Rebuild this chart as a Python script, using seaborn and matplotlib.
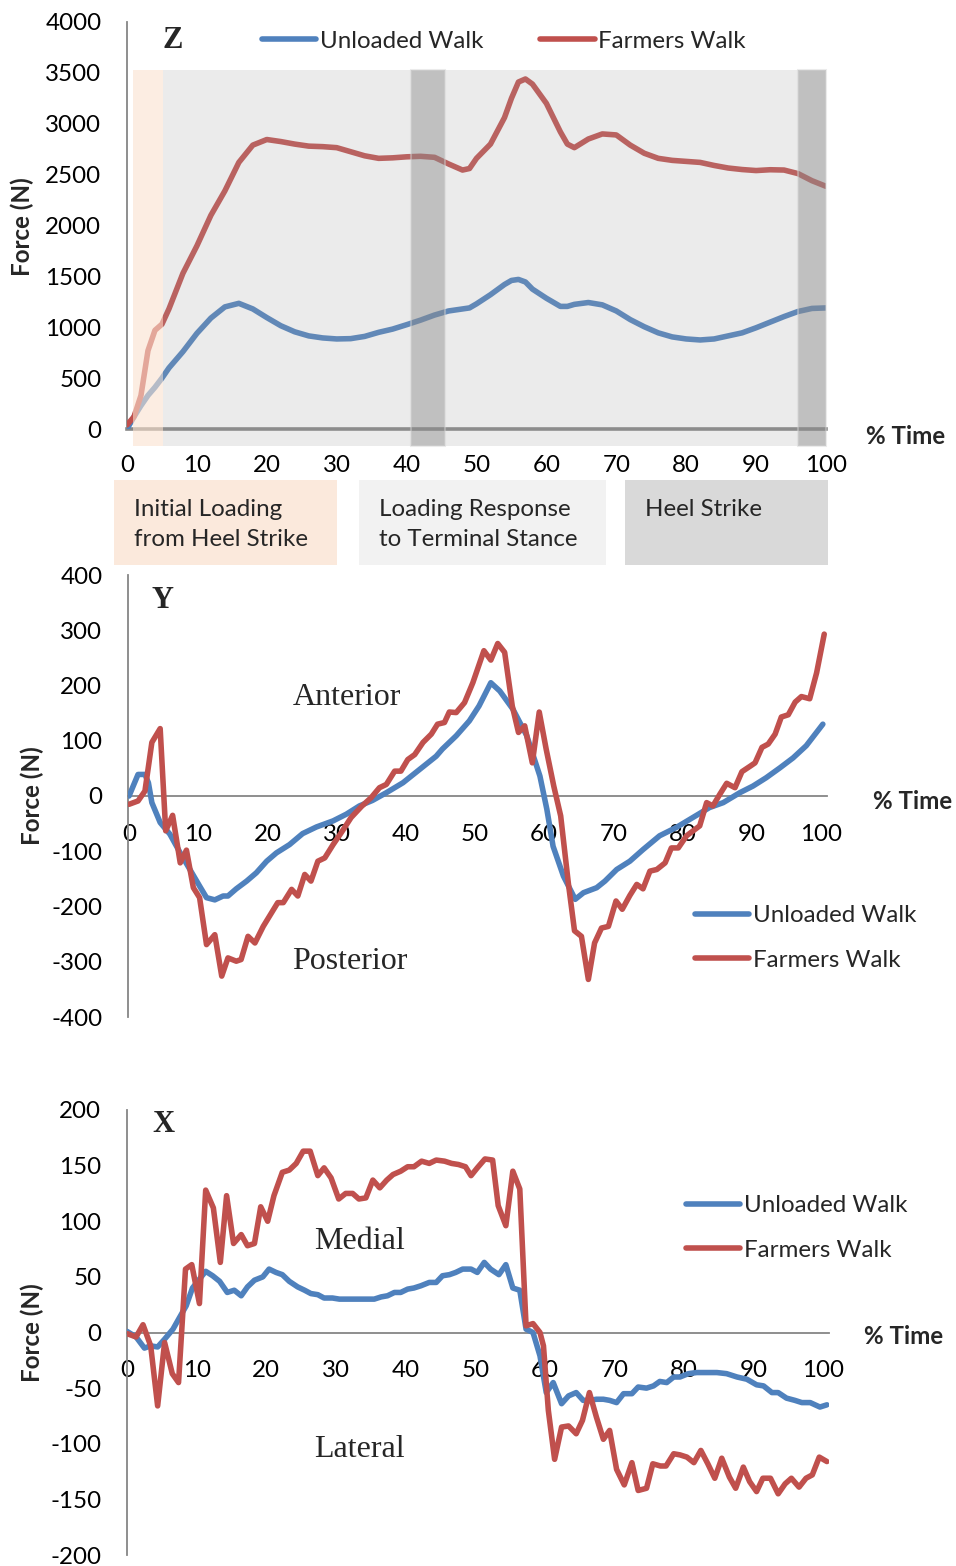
import matplotlib
matplotlib.use("Agg")
import matplotlib.pyplot as plt
from matplotlib.patches import Rectangle
import seaborn as sns

# ---- Z (vertical) force, N ----
z_time = [0, 1, 2, 3, 4, 5, 6, 8, 10, 12, 14, 16, 18, 20, 22, 24, 26, 28, 30, 32,
          34, 36, 38, 40, 42, 44, 46, 48, 49, 50, 52, 54, 55, 56, 57, 58, 60, 62, 63, 64,
          66, 68, 70, 72, 74, 76, 78, 80, 82, 84, 86, 88, 90, 92, 94, 96, 98, 100]
z_unloaded = [0, 120, 230, 330, 410, 500, 600, 760, 940, 1090, 1200, 1235, 1180, 1095, 1015, 955, 915, 895, 885, 888,
              910, 950, 982, 1025, 1070, 1120, 1160, 1180, 1190, 1230, 1320, 1420, 1460, 1470, 1445, 1375, 1285, 1205, 1205, 1225,
              1243, 1220, 1160, 1075, 1005, 945, 905, 885, 875, 885, 915, 945, 995, 1050, 1105, 1155, 1185, 1190]
z_farmers = [40, 120, 330, 770, 970, 1030, 1180, 1530, 1800, 2100, 2340, 2620, 2790, 2845, 2825, 2800, 2780, 2775, 2765, 2725,
             2685, 2660, 2665, 2675, 2680, 2670, 2605, 2545, 2560, 2660, 2800, 3060, 3250, 3410, 3440, 3390, 3200, 2920, 2800, 2765,
             2850, 2900, 2890, 2790, 2710, 2660, 2640, 2630, 2620, 2590, 2565, 2550, 2540, 2548, 2545, 2510, 2440, 2385]

# ---- Y (anterior / posterior) force, N ----
y_time_unloaded = [0, 1.3, 2.3, 2.8, 3.3, 4.5, 5.9, 7.4, 8.8, 10.2, 11.2, 12.4, 13.6, 14.3, 15.5, 17, 18.4, 19.9, 21.3, 23.2,
                   25.1, 27.1, 29.5, 31.4, 33.3, 35.2, 37.2, 39.6, 42, 44.4, 45.3, 47.3, 49.2, 50.6, 52.3, 53.6, 55.5, 57.5, 59.4, 60.4,
                   61.3, 62.8, 64.5, 65.7, 67.6, 68.8, 70.5, 72.4, 74.3, 76.7, 79.1, 81.5, 83.9, 85.9, 88.3, 90.2, 92.1, 94.1, 96, 97.9,
                   100.3]
y_unloaded = [0, 39, 39, 24, -12, -48, -69, -103, -133, -163, -184, -188, -181, -181, -168, -154, -139, -118, -103, -88,
              -68, -56, -45, -33, -18, -8, 6, 24, 48, 72, 85, 109, 136, 163, 205, 190, 157, 109, 36, -24,
              -91, -145, -187, -175, -166, -154, -133, -118, -97, -72, -57, -39, -21, -12, 6, 18, 33, 51, 69, 91,
              130]
y_time_farmers = [0, 1.3, 2.3, 3.3, 4.5, 5.3, 6.3, 7.4, 8.3, 9.3, 10.2, 11.2, 12.4, 13.4, 14.3, 15.5, 16.2, 17.2, 18.2, 19.4,
                  21.5, 22.3, 23.5, 24.4, 25.4, 26.3, 27.3, 28.3, 29.5, 30.7, 32.1, 33.6, 35, 36.2, 37.2, 38.4, 39.3, 40.3, 41.3, 42.5,
                  43.7, 44.6, 45.6, 46.3, 47.3, 48.5, 49.7, 51.3, 52.3, 53.3, 54.3, 55.4, 56.3, 57.2, 58.3, 59.3, 60.3, 61.4, 62.4, 63.5,
                  64.4, 65.4, 66.4, 67.3, 68.3, 69.3, 70.4, 71.3, 72.4, 73.4, 74.3, 75.3, 76.3, 77.5, 78.4, 79.4, 80.6, 82.5, 83.5, 84.4,
                  85.4, 86.4, 87.6, 88.6, 89.8, 90.5, 91.5, 92.4, 93.4, 94.3, 95.3, 96.3, 97.2, 98.4, 99.4, 100.5]
y_farmers = [-15, -9, 9, 97, 122, -63, -35, -121, -98, -166, -184, -269, -251, -326, -293, -299, -296, -254, -266, -236,
             -193, -193, -169, -181, -142, -154, -118, -112, -88, -66, -39, -19, -3, 15, 21, 45, 45, 66, 75, 97,
             112, 130, 133, 152, 151, 169, 205, 263, 246, 276, 260, 163, 115, 127, 60, 152, 85, 18, -36, -157,
             -244, -254, -332, -266, -239, -236, -190, -205, -180, -160, -168, -136, -133, -121, -94, -94, -72, -54, -12, -18,
             3, 23, 15, 44, 54, 60, 88, 94, 112, 143, 147, 170, 180, 176, 223, 293]

# ---- X (medial / lateral) force, N ----
x_time_unloaded = [0, 1.3, 2.5, 3.4, 4.4, 5.4, 6.6, 7.5, 8.5, 9.4, 10.4, 11.3, 12.3, 13.3, 14.4, 15.4, 16.4, 17.3, 18.3, 19.5,
                   20.4, 21.4, 22.3, 23.3, 24.5, 25.5, 26.4, 27.4, 28.3, 29.5, 30.5, 31.4, 32.4, 33.3, 34.3, 35.5, 36.5, 37.4, 38.4, 39.3,
                   40.3, 41.2, 42.2, 43.4, 44.4, 45.3, 46.3, 47.2, 48.2, 49.4, 50.3, 51.3, 52.2, 53.4, 54.4, 55.4, 56.4, 57.3, 58.3, 59.3,
                   60.2, 61.2, 62.4, 63.4, 64.5, 65.5, 66.5, 67.4, 68.4, 69.3, 70.3, 71.3, 72.5, 73.4, 74.6, 75.6, 76.5, 77.5, 78.5, 79.4,
                   80.6, 81.8, 83.2, 84.7, 86.1, 87.6, 89, 90.4, 91.4, 92.6, 93.5, 94.7, 95.9, 96.9, 98.1, 99.5, 100.5]
x_unloaded = [1, -4, -14, -12, -13, -6, 3, 13, 24, 40, 48, 55, 51, 46, 36, 38, 33, 41, 47, 50,
              57, 54, 52, 46, 41, 38, 35, 34, 31, 31, 30, 30, 30, 30, 30, 30, 32, 33, 36, 36,
              39, 40, 42, 45, 45, 51, 52, 54, 57, 57, 54, 63, 57, 52, 61, 40, 38, 3, 0, -21,
              -54, -45, -64, -57, -54, -61, -61, -60, -60, -61, -63, -55, -55, -49, -50, -48, -44, -45, -40, -40,
              -37, -36, -36, -36, -37, -40, -42, -47, -48, -54, -54, -59, -61, -63, -63, -67, -65]
x_time_farmers = [0, 1.3, 2.3, 3.4, 4.4, 5.4, 6.5, 7.4, 8.4, 9.3, 10.4, 11.3, 12.4, 13.4, 14.3, 15.3, 16.4, 17.3, 18.3, 19.2,
                  20.2, 21.1, 22.3, 23.3, 24.3, 25.3, 26.3, 27.4, 28.3, 29.3, 30.4, 31.4, 32.4, 33.3, 34.3, 35.3, 36.3, 37.3, 38.2, 39.3,
                  40.3, 41.2, 42.3, 43.4, 44.4, 45.6, 46.6, 47.6, 48.6, 49.4, 50.3, 51.4, 52.5, 53.3, 54.4, 55.4, 56.4, 57.3, 58.3, 59.3,
                  59.8, 60.5, 61.4, 62.4, 63.4, 64.5, 65.4, 66.4, 67.4, 68.4, 69.3, 70.3, 71.4, 72.5, 73.4, 74.6, 75.5, 76.6, 77.4, 78.5,
                  79.4, 80.4, 81.4, 82.4, 83.4, 84.4, 85.4, 86.5, 87.4, 88.5, 89.4, 90.4, 91.3, 92.4, 93.5, 94.5, 95.4, 96.5, 97.5, 98.4,
                  99.4, 100.5]
x_farmers = [-1, -4, 7, -12, -66, -9, -37, -45, 57, 61, 26, 128, 112, 63, 123, 80, 88, 78, 80, 113,
             100, 123, 144, 146, 152, 163, 163, 141, 148, 139, 120, 125, 125, 120, 121, 137, 130, 137, 142, 145,
             149, 149, 154, 152, 155, 154, 152, 151, 149, 141, 148, 156, 155, 114, 96, 145, 129, 6, 8, 0,
             -12, -70, -114, -85, -84, -91, -79, -54, -76, -96, -88, -123, -137, -117, -142, -140, -118, -120, -120, -109,
             -110, -112, -117, -106, -118, -131, -113, -130, -140, -121, -134, -143, -131, -131, -145, -136, -131, -139, -131, -128,
             -112, -116]

series_names = ["Unloaded Walk", "Farmers Walk"]
phase_labels = ["Initial Loading\nfrom Heel Strike", "Loading Response\nto Terminal Stance", "Heel Strike"]

BLUE = "#4F81BD"
RED = "#C0504D"
GRAY = "#868686"
W, H = 956, 1566
FS = 17.4
LW = 4.0

sns.set_style("white")
plt.rcParams["font.family"] = ["Lato", "DejaVu Sans"]
plt.rcParams["axes.unicode_minus"] = False

fig = plt.figure(figsize=(W / 100, H / 100), dpi=100)


def add_ax(left, top, right, bottom):
    return fig.add_axes([left / W, 1 - bottom / H, (right - left) / W, (bottom - top) / H])


def style(ax, xlim, ylim, ystep, bottom_lw=1.3, xpad=13):
    ax.set_xlim(*xlim)
    ax.set_ylim(*ylim)
    ax.set_xticks(range(0, 101, 10))
    ax.set_yticks(range(ylim[0], ylim[1] + 1, ystep))
    for s in ["top", "right"]:
        ax.spines[s].set_visible(False)
    ax.spines["left"].set_color(GRAY)
    ax.spines["left"].set_linewidth(1.3)
    ax.spines["bottom"].set_position(("data", 0))
    ax.spines["bottom"].set_color(GRAY)
    ax.spines["bottom"].set_linewidth(bottom_lw)
    ax.tick_params(axis="both", direction="out", length=4.5, width=1.3, color=GRAY,
                   labelsize=FS, labelcolor="black")
    ax.tick_params(axis="y", pad=14)
    ax.tick_params(axis="x", pad=xpad)
    ax.set_xlabel("")
    ax.set_ylabel("")
    ax.patch.set_alpha(0)
    for ln in ax.lines:
        ln.set_linewidth(LW)
        ln.set_solid_capstyle("round")


def fig_text(x, y, s, **kw):
    fig.text(x / W, 1 - y / H, s, **kw)


def legend(ax, x, y):
    leg = ax.legend(loc="upper left", bbox_to_anchor=(x / W, 1 - y / H), bbox_transform=fig.transFigure,
                    frameon=False, fontsize=FS, handlelength=2.25, handletextpad=0.15, labelspacing=0.98,
                    borderpad=0, borderaxespad=0)
    for ln in leg.get_lines():
        ln.set_linewidth(LW)


# ---------------- Z panel ----------------
axz = add_ax(127, 22, 826, 429)
sns.lineplot(x=z_time, y=z_unloaded, ax=axz, color=BLUE, linewidth=LW, label=series_names[0], zorder=3)
sns.lineplot(x=z_time, y=z_farmers, ax=axz, color=RED, linewidth=LW, label=series_names[1], zorder=3)
style(axz, (0, 100), (0, 4000), 500, bottom_lw=2.6, xpad=14)

# phase shading (drawn over the lines, semi-transparent)
ybot, ytop = -167, 3530
axz.add_patch(Rectangle((0.9, ybot), 4.3, ytop - ybot, facecolor="#FBE2CF", alpha=0.6,
                        edgecolor="none", zorder=4, clip_on=False))
axz.add_patch(Rectangle((5.2, ybot), 94.8, ytop - ybot, facecolor="#A4A4A4", alpha=0.22,
                        edgecolor="none", zorder=4, clip_on=False))
for x0, x1 in [(40.6, 45.5), (96.0, 100.0)]:
    axz.add_patch(Rectangle((x0, ybot), x1 - x0, ytop - ybot, facecolor="#8C8C8C", alpha=0.45,
                            edgecolor="#D4D4D4", lw=1.5, zorder=5, clip_on=False))

legz = axz.legend(loc="center left", bbox_to_anchor=(262 / W, 1 - 41 / H), bbox_transform=fig.transFigure,
                  ncol=2, frameon=False, fontsize=FS, handlelength=2.25, handletextpad=0.15,
                  columnspacing=2.35, borderpad=0, borderaxespad=0)
for ln in legz.get_lines():
    ln.set_linewidth(LW)
fig_text(173, 40, "Z", family="Liberation Serif", weight="bold", size=22, ha="center", va="center")
fig_text(22, 227, "Force (N)", rotation=90, weight="bold", size=FS, ha="center", va="center")
fig_text(866, 436, "% Time", weight="bold", size=FS, ha="left", va="center")

# phase key boxes
boxes = [(114, 337, "#FBE9DC"), (359, 606, "#F2F2F2"), (625, 828, "#D9D9D9")]
for (l, r, c), lab in zip(boxes, phase_labels):
    fig.patches.append(Rectangle((l / W, 1 - 565 / H), (r - l) / W, 85 / H,
                                 transform=fig.transFigure, facecolor=c, edgecolor="none"))
    fig_text(l + 20, 499, lab, size=FS, ha="left", va="top", linespacing=1.55)

# ---------------- Y panel ----------------
axy = add_ax(128, 575, 827, 1017)
sns.lineplot(x=y_time_unloaded, y=y_unloaded, ax=axy, color=BLUE, linewidth=LW, label=series_names[0], zorder=3)
sns.lineplot(x=y_time_farmers, y=y_farmers, ax=axy, color=RED, linewidth=LW, label=series_names[1], zorder=3)
style(axy, (-0.15, 100.9), (-400, 400), 100, xpad=16)
legend(axy, 695, 905)
axy.text(31.5, 179, "Anterior", family="Liberation Serif", size=23, ha="center", va="center")
axy.text(31.9, -300, "Posterior", family="Liberation Serif", size=23, ha="center", va="center")
fig_text(163, 601, "Y", family="Liberation Serif", weight="bold", size=22, ha="center", va="center")
fig_text(32, 796, "Force (N)", rotation=90, weight="bold", size=FS, ha="center", va="center")
fig_text(873, 802, "% Time", weight="bold", size=FS, ha="left", va="center")

# ---------------- X panel ----------------
axx = add_ax(127, 1110, 829, 1555)
sns.lineplot(x=x_time_unloaded, y=x_unloaded, ax=axx, color=BLUE, linewidth=LW, label=series_names[0], zorder=3)
sns.lineplot(x=x_time_farmers, y=x_farmers, ax=axx, color=RED, linewidth=LW, label=series_names[1], zorder=3)
style(axx, (0, 100.8), (-200, 200), 50, xpad=15)
legend(axx, 686, 1195)
axx.text(33.4, 82, "Medial", family="Liberation Serif", size=23, ha="center", va="center")
axx.text(33.4, -105, "Lateral", family="Liberation Serif", size=23, ha="center", va="center")
fig_text(163, 1124, "X", family="Liberation Serif", weight="bold", size=22, ha="center", va="center")
fig_text(32, 1333, "Force (N)", rotation=90, weight="bold", size=FS, ha="center", va="center")
fig_text(864, 1336, "% Time", weight="bold", size=FS, ha="left", va="center")

fig.savefig("out.png", dpi=100)
